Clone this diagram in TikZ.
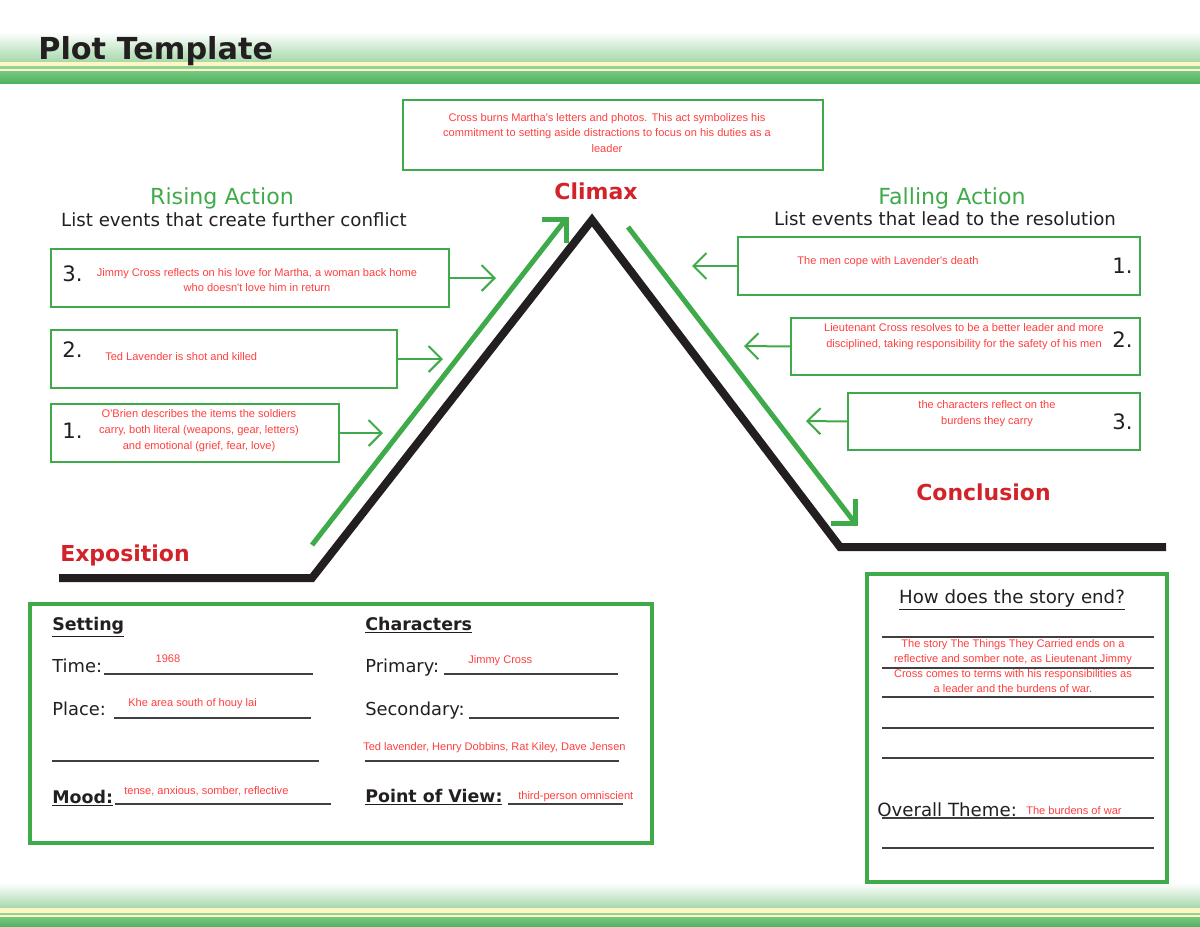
\documentclass[tikz,border=0pt]{standalone}
\usepackage{fontspec}
\setmainfont{DejaVu Sans}
\newfontfamily\redfont{Liberation Sans}
\usetikzlibrary{arrows.meta}
\definecolor{pgreen}{HTML}{3FAA4A}
\definecolor{tred}{HTML}{FF3F3F}
\definecolor{hred}{HTML}{D2232A}
\definecolor{ink}{HTML}{231F20}
\definecolor{band}{HTML}{4DB35B}
\definecolor{bandlight}{HTML}{A5D8AA}
\definecolor{cream}{HTML}{FFF7C2}
\newlength\pxu
\setlength\pxu{0.66pt}
\begin{document}
\begin{tikzpicture}[x=0.66pt,y=-0.66pt,
  gbox/.style={draw=pgreen, line width=2\pxu, inner sep=0pt, outer sep=0pt, anchor=north west},
  bigbox/.style={gbox, line width=4.5\pxu},
  redtxt/.style={text=tred, font=\redfont\fontsize{7.3}{10.5}\selectfont, align=center, inner sep=0pt},
  numtxt/.style={font=\fontsize{14}{15}\selectfont, text=ink, inner sep=0pt, anchor=base west},
  garrow/.style={draw=pgreen, line width=2\pxu, -{Straight Barb[length=8.6pt, width=17.2pt]}},
  gline/.style={draw=pgreen, line width=5\pxu},
  mountain/.style={draw=ink, line width=8\pxu, line join=miter},
  fillline/.style={draw=black!75, line width=1.3\pxu},
  lbl/.style={font=\fontsize{11.8}{14}\selectfont, text=ink, inner sep=0pt, anchor=base west},
  blbl/.style={font=\bfseries\fontsize{11.5}{14}\selectfont, text=ink, inner sep=0pt, anchor=base west},
  headred/.style={font=\bfseries\fontsize{14.5}{16}\selectfont, text=hred, inner sep=0pt, anchor=base},
  headgreen/.style={font=\fontsize{14.6}{16}\selectfont, text=pgreen, inner sep=0pt, anchor=base},
  subhead/.style={font=\fontsize{12}{13}\selectfont, text=ink, inner sep=0pt, anchor=base}
]
\useasboundingbox (0,0) rectangle (1200,927);
% header
\shade[top color=white, bottom color=bandlight] (0,32) rectangle (1200,62);
\fill[cream] (0,62) rectangle (1200,66);
\fill[bandlight!80!band] (0,66) rectangle (1200,69);
\fill[cream] (0,69) rectangle (1200,71);
\shade[top color=band!75, bottom color=band] (0,71) rectangle (1200,83);
\node[font=\bfseries\fontsize{20}{22}\selectfont, text=ink, inner sep=0pt, anchor=base west] (title) at (38,59) {Plot Template};
% footer
\shade[top color=white, bottom color=bandlight] (0,883) rectangle (1200,908);
\fill[cream] (0,908) rectangle (1200,913);
\fill[bandlight!80!band] (0,913) rectangle (1200,915);
\fill[cream] (0,915) rectangle (1200,917);
\shade[top color=band!75, bottom color=band] (0,917) rectangle (1200,927);

% climax box
\node[gbox, minimum width=420\pxu, minimum height=70\pxu] (cbox) at (403,100) {};
\node[redtxt] (ctext) at (607,133) {Cross burns Martha's letters and photos. This act symbolizes his\\commitment to setting aside distractions to focus on his duties as a\\leader};
\node[headred] (climax) at (596,199) {Climax};

% headings
\node[headgreen] (rising) at (222,204) {Rising Action};
\node[subhead] (risingsub) at (234,226) {List events that create further conflict};
\node[headgreen] (falling) at (952,204) {Falling Action};
\node[subhead] (fallingsub) at (945,225) {List events that lead to the resolution};

% mountain
\coordinate (m1) at (59,578);
\coordinate (m2) at (312,578);
\coordinate (m3) at (592,220);
\coordinate (m4) at (840,547);
\coordinate (m5) at (1166,547);
\draw[mountain] (m1) -- (m2) -- (m3) -- (m4) -- (m5);

% green plot arrows
\coordinate (ga1) at (312,545);
\coordinate (ga2) at (566,219);
\draw[gline] (ga1) -- (ga2);
\draw[gline, line join=miter] ([xshift=-24\pxu]ga2) -- (ga2) -- ([yshift=-24\pxu]ga2);
\coordinate (gb1) at (628,227);
\coordinate (gb2) at (855,523);
\draw[gline] (gb1) -- (gb2);
\draw[gline, line join=miter] ([xshift=-24\pxu]gb2) -- (gb2) -- ([yshift=24\pxu]gb2);

\node[headred, anchor=base west] (expo) at (60,561) {Exposition};
\node[headred, anchor=base west] (concl) at (916,500) {Conclusion};

% rising boxes
\node[gbox, minimum width=398\pxu, minimum height=58\pxu] (r3) at (51,249) {};
\node[numtxt] (r3n) at (62,281) {3.};
\node[redtxt] (r3t) at (257,280) {Jimmy Cross reflects on his love for Martha, a woman back home\\who doesn't love him in return};
\coordinate (r3a) at (496,278);
\draw[garrow] (r3.east) -- (r3a);

\node[gbox, minimum width=346\pxu, minimum height=58\pxu] (r2) at (51,330) {};
\node[numtxt] (r2n) at (62,357) {2.};
\node[redtxt, anchor=west] (r2t) at (105,357) {Ted Lavender is shot and killed};
\coordinate (r2a) at (443,359);
\draw[garrow] (r2.east) -- (r2a);

\node[gbox, minimum width=288\pxu, minimum height=58\pxu] (r1) at (51,404) {};
\node[numtxt] (r1n) at (62,438) {1.};
\node[redtxt] (r1t) at (199,431) {O'Brien describes the items the soldiers\\carry, both literal (weapons, gear, letters)\\and emotional (grief, fear, love)};
\coordinate (r1a) at (383,433);
\draw[garrow] (r1.east) -- (r1a);

% falling boxes
\node[gbox, minimum width=402\pxu, minimum height=58\pxu] (f1) at (738,237) {};
\node[numtxt] (f1n) at (1112,273) {1.};
\node[redtxt] (f1t) at (888,262) {The men cope with Lavender's death};
\coordinate (f1a) at (692,266);
\draw[garrow] (f1.west) -- (f1a);

\node[gbox, minimum width=349\pxu, minimum height=57\pxu] (f2) at (791,318) {};
\node[numtxt] (f2n) at (1112,347) {2.};
\node[redtxt] (f2t) at (964,337) {Lieutenant Cross resolves to be a better leader and more\\disciplined, taking responsibility for the safety of his men};
\coordinate (f2a) at (744,346);
\draw[garrow] (f2.west) -- (f2a);

\node[gbox, minimum width=292\pxu, minimum height=57\pxu] (f3) at (848,393) {};
\node[numtxt] (f3n) at (1112,429) {3.};
\node[redtxt] (f3t) at (987,414) {the characters reflect on the\\burdens they carry};
\coordinate (f3a) at (806,421);
\draw[garrow] (f3.west) -- (f3a);

% bottom left box
\node[bigbox, minimum width=622\pxu, minimum height=239\pxu] (sbox) at (30,604) {};
\node[blbl] (setting) at (52,630) {\underline{Setting}};
\node[blbl] (chars) at (365,630) {\underline{Characters}};
\node[lbl] (time) at (52,672) {Time:};
\draw[fillline] (104,674) -- (313,674);
\node[redtxt] (timev) at (168,659) {1968};
\node[lbl] (place) at (52,715) {Place:};
\draw[fillline] (114,718) -- (311,718);
\node[redtxt, anchor=base west] (placev) at (128,706) {Khe area south of houy lai};
\draw[fillline] (52,761) -- (319,761);
\node[blbl] (mood) at (52,803) {\underline{Mood:}};
\draw[fillline] (115,804) -- (331,804);
\node[redtxt, anchor=base west] (moodv) at (124,794) {tense, anxious, somber, reflective};
\node[lbl] (primary) at (365,672) {Primary:};
\draw[fillline] (444,674) -- (618,674);
\node[redtxt, anchor=base west] (primv) at (468,663) {Jimmy Cross};
\node[lbl] (second) at (365,715) {Secondary:};
\draw[fillline] (469,718) -- (619,718);
\node[redtxt, anchor=base west] (secv) at (363,750) {Ted lavender, Henry Dobbins, Rat Kiley, Dave Jensen};
\draw[fillline] (365,761) -- (619,761);
\node[blbl] (pov) at (365,802) {\underline{Point of View:}};
\draw[fillline] (508,804) -- (623,804);
\node[redtxt, anchor=base west] (povv) at (518,799) {third-person omniscient};

% bottom right box
\node[bigbox, minimum width=300\pxu, minimum height=308\pxu] (ebox) at (867,574) {};
\node[lbl, font=\fontsize{12}{14}\selectfont, anchor=base] (endq) at (1012,603) {\underline{How does the story end?}};
\foreach \yy in {637,668,697,728,758,818,848} \draw[fillline] (882,\yy) -- (1154,\yy);
\node[redtxt, font=\redfont\fontsize{7.3}{10}\selectfont] (endv) at (1013,666) {The story The Things They Carried ends on a\\reflective and somber note, as Lieutenant Jimmy\\Cross comes to terms with his responsibilities as\\a leader and the burdens of war.};
\node[lbl, font=\fontsize{12}{14}\selectfont] (theme) at (877,816) {Overall Theme:};
\node[redtxt, anchor=base west] (themev) at (1026,814) {The burdens of war};
\end{tikzpicture}
\end{document}
